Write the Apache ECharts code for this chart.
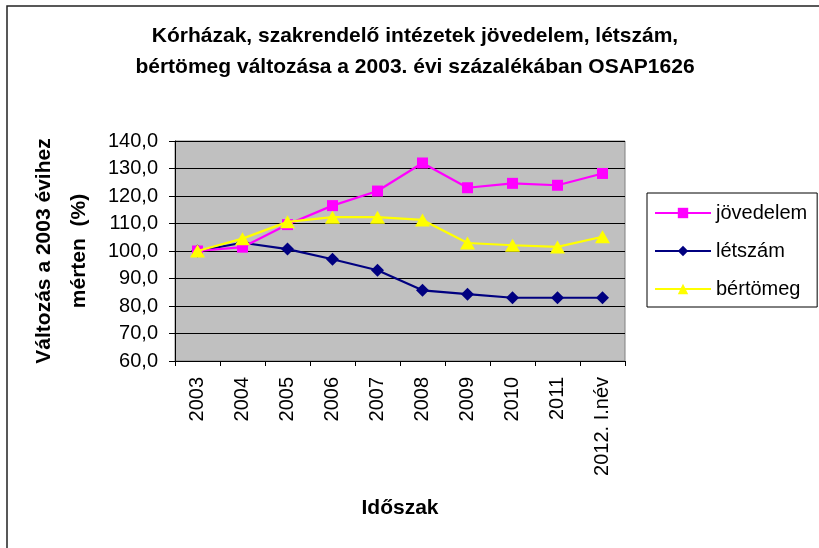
<!DOCTYPE html>
<html>
<head>
<meta charset="utf-8">
<script src="https://cdn.jsdelivr.net/npm/echarts@6/dist/echarts.min.js"></script>
<style>html,body{margin:0;padding:0;background:#fff}#c{width:819px;height:548px}</style>
</head>
<body>
<div id="c"></div>
<script>
const categories = ['2003','2004','2005','2006','2007','2008','2009','2010','2011','2012. I.név'];
const jovedelem = [100, 101.4, 109.6, 116.5, 121.8, 132, 123, 124.6, 123.9, 128.2];
const letszam = [100, 103, 100.7, 97, 93, 85.7, 84.3, 83, 83, 83];
const bertomeg = [100, 104.5, 110.6, 112.3, 112.3, 111.3, 102.9, 102.1, 101.5, 105.2];
const yTicks = {min: 60, max: 140, interval: 10};

const font = '"Liberation Sans", Arial, sans-serif';
const chart = echarts.init(document.getElementById('c'));
chart.setOption({
  animation: false,
  backgroundColor: '#fff',
  textStyle: {fontFamily: font},
  title: {
    text: 'Kórházak, szakrendelő intézetek jövedelem, létszám,\nbértömeg változása a 2003. évi százalékában OSAP1626',
    left: 410, top: 16, textAlign: 'center',
    textStyle: {fontFamily: font, fontSize: 21, fontWeight: 'bold', color: '#000', lineHeight: 31}
  },
  graphic: [{
    type: 'rect', shape: {x: 7, y: 6, width: 900, height: 900},
    style: {fill: 'none', stroke: '#222', lineWidth: 1.5}, silent: true, z: -1
  }],
  grid: {left: 175, top: 141, right: 194, bottom: 187, show: true, backgroundColor: '#c0c0c0', borderColor: '#808080', borderWidth: 1, containLabel: false, outerBoundsMode: 'none'},
  legend: {
    orient: 'vertical', left: 647, top: 193,
    itemWidth: 56, itemHeight: 13, itemGap: 18,
    padding: [10, 10, 8, 7],
    borderColor: '#000', borderWidth: 1, backgroundColor: '#fff',
    textStyle: {fontFamily: font, fontSize: 20, color: '#000'},
    data: ['jövedelem', 'létszám', 'bértömeg']
  },
  xAxis: {
    type: 'category', data: categories, boundaryGap: true,
    name: 'Időszak', nameLocation: 'middle', nameGap: 137,
    nameTextStyle: {fontFamily: font, fontSize: 21, fontWeight: 'bold', color: '#000'},
    axisLine: {lineStyle: {color: '#000', width: 1}},
    axisTick: {show: true, length: 5, inside: false, alignWithLabel: false, lineStyle: {color: '#000'}},
    axisLabel: {rotate: 90, fontSize: 20, color: '#000', margin: 16, fontFamily: font, interval: 0},
    splitLine: {show: false}
  },
  yAxis: {
    type: 'value', min: yTicks.min, max: yTicks.max, interval: yTicks.interval,
    name: 'Változás a 2003 évihez\nmérten  (%)', nameLocation: 'middle', nameRotate: 90, nameGap: 78,
    nameTextStyle: {fontFamily: font, fontSize: 21, fontWeight: 'bold', color: '#000', lineHeight: 35},
    axisLine: {show: true, lineStyle: {color: '#000'}},
    axisTick: {show: true, length: 6, inside: false, lineStyle: {color: '#000'}},
    axisLabel: {fontSize: 20, color: '#000', margin: 17, fontFamily: font, formatter: v => v.toFixed(1).replace('.', ',')},
    splitLine: {show: true, lineStyle: {color: '#000', width: 1}}
  },
  series: [
    {name: 'jövedelem', type: 'line', data: jovedelem, symbol: 'rect', symbolSize: 11,
     lineStyle: {color: '#ff00ff', width: 2.2}, itemStyle: {color: '#ff00ff'}, z: 3},
    {name: 'létszám', type: 'line', data: letszam, symbol: 'diamond', symbolSize: [13, 13],
     lineStyle: {color: '#000080', width: 2.2}, itemStyle: {color: '#000080'}, z: 2},
    {name: 'bértömeg', type: 'line', data: bertomeg, symbol: 'triangle', symbolSize: [15, 13],
     lineStyle: {color: '#ffff00', width: 2.2}, itemStyle: {color: '#ffff00'}, z: 4}
  ]
});
</script>
</body>
</html>
